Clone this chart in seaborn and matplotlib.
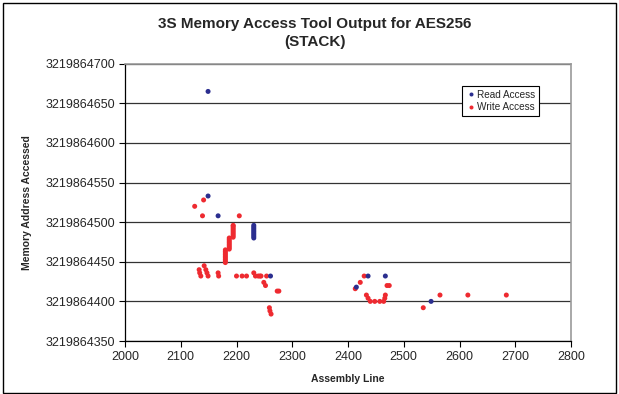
import matplotlib
matplotlib.use("Agg")
import matplotlib.pyplot as plt
import matplotlib.patches as mpatches
from matplotlib.ticker import FuncFormatter, MultipleLocator
import seaborn as sns
import pandas as pd

# ---- data ----
BASE = 3219864000

read_x = [2149, 2149, 2167,
          2231, 2231, 2231, 2231, 2231, 2231, 2231, 2231, 2231,
          2261, 2415, 2436, 2467, 2549]
read_y = [665, 533, 508,
          480, 482, 484, 486, 488, 490, 492, 494, 496,
          432, 418, 432, 432, 400]

write_x = [2125, 2141, 2139, 2205,
           2180, 2180, 2180, 2180, 2180, 2180, 2180, 2180, 2180,
           2187, 2187, 2187, 2187, 2187, 2187, 2187, 2187,
           2194, 2194, 2194, 2194, 2194, 2194, 2194, 2194, 2194,
           2133, 2134, 2136, 2142, 2145, 2147, 2149, 2167, 2168,
           2200, 2210, 2218, 2231, 2234, 2239, 2242, 2244, 2254,
           2249, 2252, 2273, 2276, 2259, 2260, 2262,
           2413, 2422, 2429, 2433, 2436, 2440, 2448, 2457, 2464,
           2466, 2467, 2470, 2474,
           2535, 2565, 2615, 2684]
write_y = [520, 528, 508, 508,
           449, 451, 453, 455, 457, 459, 461, 463, 465,
           466, 468, 470, 472, 474, 476, 478, 480,
           481, 483, 485, 487, 489, 491, 493, 495, 496,
           440, 436, 432, 445, 440, 436, 432, 436, 432,
           432, 432, 432, 436, 432, 432, 432, 432, 432,
           424, 420, 413, 413, 392, 388, 384,
           416, 424, 432, 408, 404, 400, 400, 400, 400,
           404, 408, 420, 420,
           392, 408, 408, 408]

series_names = ["Read Access", "Write Access"]
colors = {"Read Access": "#2B2E8F", "Write Access": "#EE2A30"}

df = pd.concat([
    pd.DataFrame({"line": write_x, "addr": [BASE + v for v in write_y],
                  "kind": "Write Access"}),
    pd.DataFrame({"line": read_x, "addr": [BASE + v for v in read_y],
                  "kind": "Read Access"}),
], ignore_index=True)

sns.set_style("white")
plt.rcParams["font.family"] = ["Liberation Sans", "DejaVu Sans"]

W, H = 619, 394
fig = plt.figure(figsize=(W / 100, H / 100), dpi=100)
ax = fig.add_axes([125 / W, 1 - 341 / H, 446 / W, 277.3 / H])

sns.scatterplot(data=df, x="line", y="addr", hue="kind", hue_order=series_names,
                palette=colors, s=13, linewidth=0, ax=ax, zorder=3)

ax.set_xlim(2000, 2800)
ax.set_ylim(BASE + 350, BASE + 700)
ax.xaxis.set_major_locator(MultipleLocator(100))
ax.yaxis.set_major_locator(MultipleLocator(50))
ax.yaxis.set_major_formatter(FuncFormatter(lambda v, p: f"{int(round(v))}"))
ax.grid(axis="y", color="#333333", linewidth=0.9)
ax.set_axisbelow(True)
ax.tick_params(axis="both", direction="out", length=4, width=0.8, color="black",
               labelsize=9, pad=3, left=True, bottom=True)
for side in ["left", "bottom"]:
    ax.spines[side].set_color("black")
    ax.spines[side].set_linewidth(0.9)
for side in ["top", "right"]:
    ax.spines[side].set_color("#999999")
    ax.spines[side].set_linewidth(1.2)
ax.set_xlabel("")
ax.set_ylabel("")

leg = ax.legend(loc="upper left", bbox_to_anchor=((462 - 125) / 446, (341 - 86) / 277.3),
                fontsize=7.2, frameon=True, fancybox=False, edgecolor="black",
                framealpha=1, borderpad=0.35, handletextpad=0.05, labelspacing=0.3,
                markerscale=0.8, handlelength=1.1, borderaxespad=0)
leg.get_frame().set_linewidth(0.8)

fig.text(0.509, 1 - 33 / H, "3S Memory Access Tool Output for AES256\n(STACK)",
         ha="center", va="center", fontsize=11, fontweight="bold", linespacing=1.45)
fig.text(348 / W, 1 - 379 / H, "Assembly Line", ha="center", va="center",
         fontsize=7.5, fontweight="bold")
fig.text(27 / W, 1 - 203 / H, "Memory Address Accessed", ha="center", va="center",
         rotation=90, fontsize=7.5, fontweight="bold")

fig.patches.append(mpatches.Rectangle((3 / W, 1 / H), 613 / W, 390 / H,
                                      transform=fig.transFigure, fill=False,
                                      edgecolor="black", linewidth=1))

fig.savefig("out.png", dpi=100)
